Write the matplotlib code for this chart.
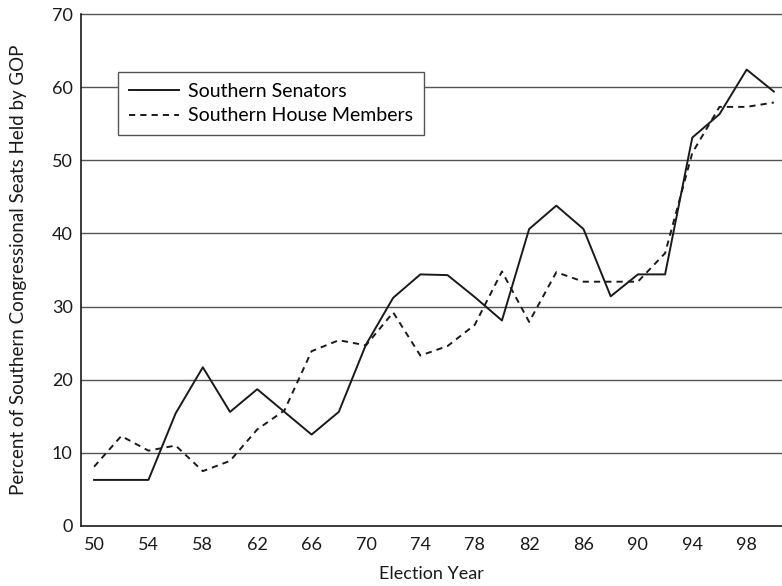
import matplotlib
matplotlib.use("Agg")
import matplotlib.pyplot as plt

# Election years (two-digit) and percent of southern seats held by GOP
YEARS = list(range(50, 101, 2))

SENATORS = [6.3, 6.3, 6.3, 15.4, 21.7, 15.6, 18.7, 15.6, 12.5, 15.6,
            24.8, 31.2, 34.4, 34.3, 31.3, 28.1, 40.6, 43.8, 40.6, 31.4,
            34.4, 34.4, 53.1, 56.3, 62.4, 59.4]

HOUSE = [8.1, 12.3, 10.3, 11.0, 7.5, 8.9, 13.2, 15.8, 23.9, 25.4,
         24.7, 29.2, 23.3, 24.6, 27.5, 34.8, 27.9, 34.7, 33.4, 33.4,
         33.4, 37.3, 51.0, 57.3, 57.3, 57.9]

X_TICKS = list(range(50, 100, 4))
Y_TICKS = list(range(0, 71, 10))

plt.rcParams["font.family"] = ["Lato", "DejaVu Sans"]

fig = plt.figure(figsize=(7.82, 5.86), dpi=100)
ax = fig.add_axes([0.1036, 0.1024, 0.8964, 0.8737])

for y in Y_TICKS[1:]:
    ax.axhline(y, color="#555555", linewidth=1.0, zorder=1, clip_on=False)

ax.plot(YEARS, SENATORS, color="#1a1a1a", linewidth=1.4, linestyle="-",
        label="Southern Senators", zorder=3)
ax.plot(YEARS, HOUSE, color="#1a1a1a", linewidth=1.4, linestyle=(0, (3.2, 2.6)),
        label="Southern House Members", zorder=3)

ax.set_xlim(49.04, 100.6)
ax.set_ylim(0, 70)
ax.set_xticks(X_TICKS)
ax.set_yticks(Y_TICKS)
ax.tick_params(length=0, labelsize=13, colors="#1a1a1a")
ax.tick_params(axis="x", pad=8)
ax.tick_params(axis="y", pad=6)

for side in ["top", "right"]:
    ax.spines[side].set_visible(False)
for side in ["left", "bottom"]:
    ax.spines[side].set_color("#1a1a1a")
    ax.spines[side].set_linewidth(1.2)

ax.set_xlabel("Election Year", fontsize=13, color="#1a1a1a", labelpad=9)
ax.set_ylabel("Percent of Southern Congressional Seats Held by GOP",
              fontsize=13.5, color="#1a1a1a", labelpad=18)

leg = ax.legend(loc="upper left", bbox_to_anchor=(0.053, 0.887), fontsize=14,
                frameon=True, fancybox=False, handlelength=2.6,
                borderpad=0.55, labelspacing=0.4, handletextpad=0.45,
                borderaxespad=0.0)
leg.get_frame().set_edgecolor("#555555")
leg.get_frame().set_linewidth(1.0)
leg.get_frame().set_alpha(1.0)

fig.savefig("out.png", dpi=100)
